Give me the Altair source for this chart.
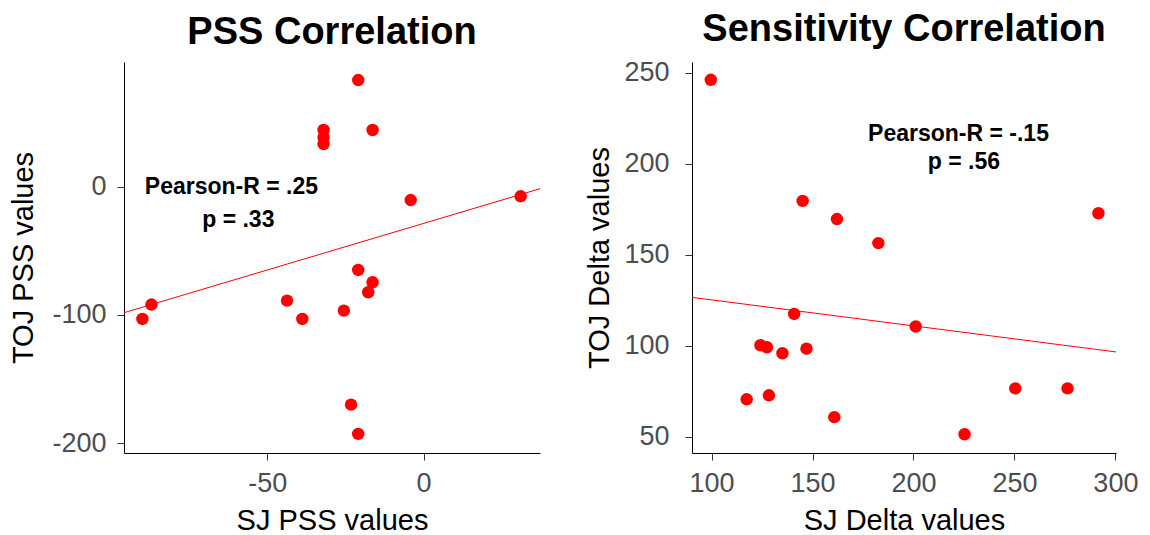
import altair as alt
import pandas as pd

# ---- data ----
pss_sj = [-20.9, -16.3, -32.0, -32.0, -32.0, -4.1, 31.1, -20.9, -16.3, -17.7,
          -43.7, -38.8, -25.5, -87.1, -90.0, -23.2, -20.9]
pss_toj = [83.1, 44.2, 44.2, 38.4, 33.2, -10.4, -7.5, -64.9, -74.5, -82.3,
           -88.8, -103.1, -96.6, -91.9, -103.1, -169.9, -192.7]

delta_sj = [99.6, 145.1, 162.1, 182.6, 291.6, 140.9, 201.1, 124.2, 127.4, 135.1,
            147.0, 117.4, 128.4, 160.8, 225.3, 250.4, 276.3]
delta_toj = [246.2, 179.7, 169.7, 156.5, 172.9, 117.6, 110.7, 100.4, 99.3, 96.0,
             98.5, 70.7, 72.9, 60.9, 51.5, 76.7, 76.7]

pss_ann_text = ["Pearson-R = .25", "p = .33"]
pss_ann_x = [-61.5, -59.3]
pss_ann_y = [-6.0, -31.4]

delta_ann_text = ["Pearson-R = -.15", "p = .56"]
delta_ann_x = [222.3, 225.0]
delta_ann_y = [212.8, 197.3]

FONT = "Liberation Sans"


def panel(sj, toj, ann_text, ann_x, ann_y, title, xtitle, ytitle,
          xdom, ydom, xticks, yticks, width, ylabpad, ytitlepad):
    df = pd.DataFrame({"sj": sj, "toj": toj})
    ann = pd.DataFrame({"label": ann_text, "ax": ann_x, "ay": ann_y})

    xs = alt.Scale(domain=xdom, nice=False, zero=False)
    ys = alt.Scale(domain=ydom, nice=False, zero=False)
    xax = alt.Axis(values=xticks, title=xtitle, labelExpr="toString(datum.value)",
                   labelFlush=False)
    yax = alt.Axis(values=yticks, title=ytitle, labelExpr="toString(datum.value)",
                   labelPadding=ylabpad, titlePadding=ytitlepad, labelFlush=False)

    pts = alt.Chart(df).mark_circle(size=155, color="#FF0000", opacity=1).encode(
        x=alt.X("sj:Q", scale=xs, axis=xax),
        y=alt.Y("toj:Q", scale=ys, axis=yax),
    )
    reg = alt.Chart(df).transform_regression(
        "sj", "toj", extent=xdom
    ).mark_line(color="#FF0000", strokeWidth=1, clip=True).encode(
        x=alt.X("sj:Q", scale=xs, axis=xax),
        y=alt.Y("toj:Q", scale=ys, axis=yax),
    )
    txt = alt.Chart(ann).mark_text(
        font=FONT, fontSize=23, fontWeight="bold", color="black",
        align="center", baseline="alphabetic"
    ).encode(
        x=alt.X("ax:Q", scale=xs, axis=xax),
        y=alt.Y("ay:Q", scale=ys, axis=yax),
        text="label:N",
    )
    return alt.layer(reg, pts, txt).properties(
        width=width, height=391,
        title=alt.TitleParams(title, fontSize=38, fontWeight="bold", font=FONT,
                              color="black", anchor="middle", offset=10),
    )


left = panel(pss_sj, pss_toj, pss_ann_text, pss_ann_x, pss_ann_y,
             "PSS Correlation", "SJ PSS values", "TOJ PSS values",
             [-95.9, 37.3], [-207.6, 97.2], [-50, 0], [-200, -100, 0], 416, 11, 13)
right = panel(delta_sj, delta_toj, delta_ann_text, delta_ann_x, delta_ann_y,
              "Sensitivity Correlation", "SJ Delta values", "TOJ Delta values",
              [90.3, 300.3], [41.2, 256.0], [100, 150, 200, 250, 300],
              [50, 100, 150, 200, 250], 424, 16, 9)

chart = alt.hconcat(left, right, spacing=45).properties(
    padding={"left": 1, "top": 2, "right": 0, "bottom": 0}
).configure_view(stroke=None).configure_axis(
    grid=False,
    labelFont=FONT, titleFont=FONT,
    labelFontSize=27, titleFontSize=29,
    labelColor="#4D4D4D", titleColor="black",
    titleFontWeight="normal",
    domainColor="black", domainWidth=1,
    tickColor="#333333", tickSize=7, tickWidth=1,
    labelPadding=10, titlePadding=10,
)

chart.save("out.html", embed_options={"renderer": "svg", "actions": False})
